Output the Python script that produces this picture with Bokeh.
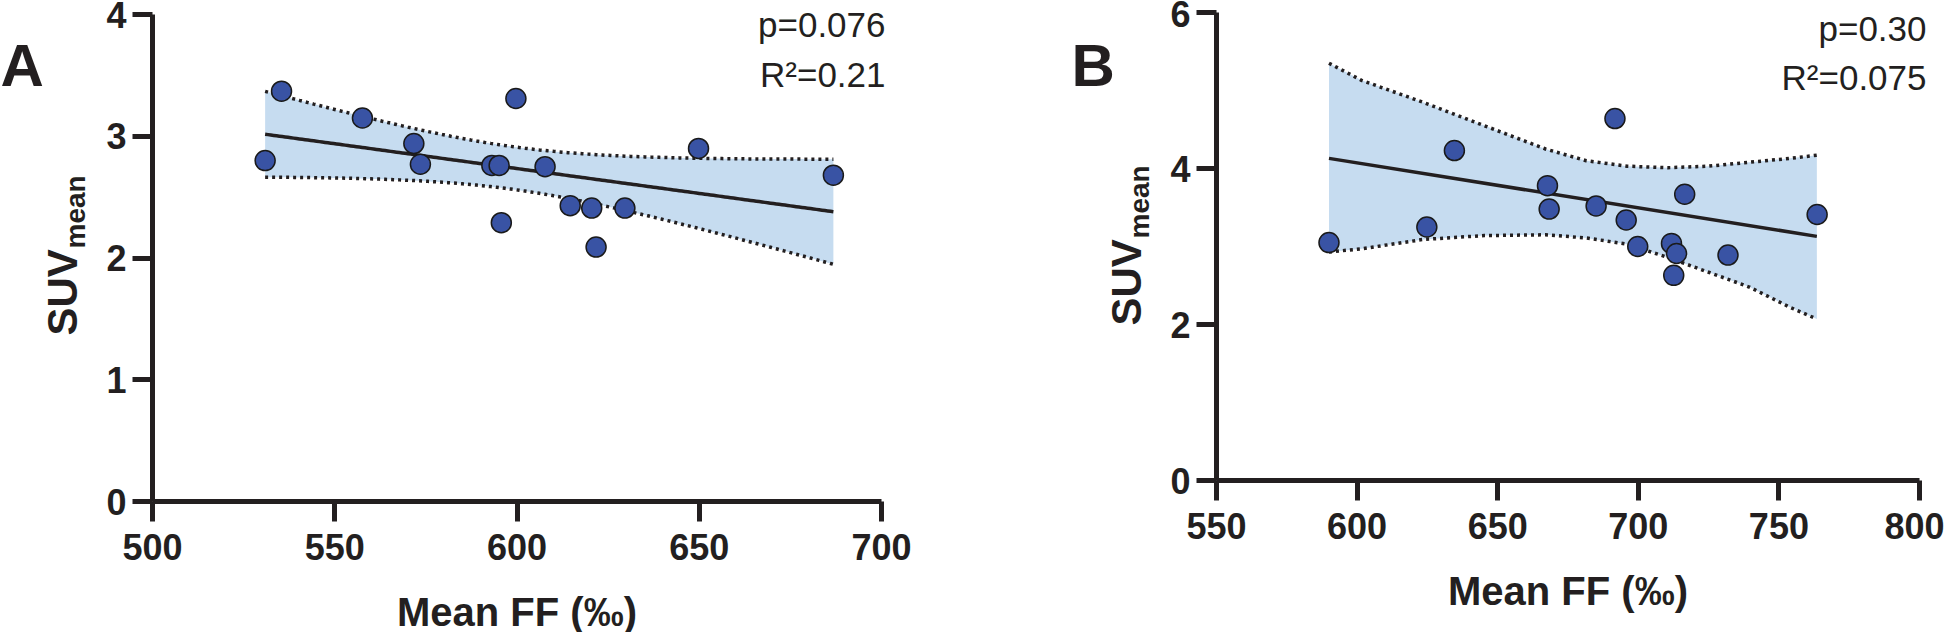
import numpy as np
from bokeh.plotting import figure
from bokeh.models import Range1d, Label, FixedTicker
from bokeh.layouts import row
from bokeh.embed import file_html
from bokeh.resources import INLINE

# ---------------- data ----------------
a_ff = [530.9, 535.4, 557.6, 571.7, 573.5, 593.1, 595.1, 595.7, 599.7,
        607.7, 614.6, 620.5, 621.7, 629.6, 649.8, 686.8]
a_suv = [2.80, 3.37, 3.15, 2.94, 2.77, 2.76, 2.76, 2.29, 3.31,
         2.75, 2.43, 2.41, 2.09, 2.41, 2.90, 2.68]
b_ff = [590.0, 624.8, 634.6, 667.7, 668.3, 685.0, 691.7, 695.7, 699.8,
        711.8, 713.6, 712.6, 716.5, 731.9, 763.6]
b_suv = [3.05, 3.25, 4.23, 3.78, 3.48, 3.52, 4.64, 3.34, 3.00,
         3.04, 2.91, 2.63, 3.67, 2.89, 3.41]
# panel B fit line and 95% band
b_fit_x = [590.0, 763.5]
b_fit_y = [4.13, 3.13]
b_band_x = [590.0, 601.6, 623.4, 645.2, 667.0, 681.5, 696.0, 710.5, 725.0, 739.5, 754.0, 763.5]
b_band_hi = [5.35, 5.13, 4.85, 4.55, 4.25, 4.10, 4.03, 4.01, 4.03, 4.08, 4.13, 4.17]
b_band_lo = [2.93, 2.97, 3.09, 3.14, 3.15, 3.11, 3.03, 2.86, 2.67, 2.48, 2.22, 2.07]

a_xticks = [500, 550, 600, 650, 700]
a_yticks = [0, 1, 2, 3, 4]
b_xticks = [550, 600, 650, 700, 750, 800]
b_yticks = [0, 2, 4, 6]
a_stats = ["p=0.076", "R²=0.21"]
b_stats = ["p=0.30", "R²=0.075"]
x_title = "Mean FF (‰)"
y_title_main = "SUV"
y_title_sub = "mean"

T975 = {13: 2.1604, 14: 2.1448, 15: 2.1314}

INK = "#231f20"
FONT = "Liberation Sans"
H = 632
MID = 0.3465  # distance (in em) from alphabetic baseline to the middle of the em box


def fit_band(x, y):
    x = np.asarray(x, float)
    y = np.asarray(y, float)
    n = len(x)
    b, a = np.polyfit(x, y, 1)
    xs = np.linspace(x.min(), x.max(), 200)
    ys = a + b * xs
    resid = y - (a + b * x)
    s = np.sqrt((resid ** 2).sum() / (n - 2))
    sxx = ((x - x.mean()) ** 2).sum()
    se = s * np.sqrt(1.0 / n + (xs - x.mean()) ** 2 / sxx)
    t = T975[n - 2]
    return xs, ys, ys - t * se, ys + t * se


def panel(letter, xv, yv, band, xr, yr, xt, yt, stats, width, page_left,
          px_x0, px_x1, px_y0, px_y1, letter_px, suv_start, stat_right, stat_base):
    # map page pixel geometry of the axes onto a frame that fills the canvas
    sx = (px_x1 - px_x0) / (xr[1] - xr[0])
    sy = (px_y0 - px_y1) / (yr[1] - yr[0])
    left = px_x0 - page_left
    x_start = xr[0] - left / sx
    x_end = xr[0] + (width - left) / sx
    y_start = yr[0] - (H - px_y0) / sy
    y_end = yr[1] + px_y1 / sy

    p = figure(width=width, height=H, output_backend="svg", toolbar_location=None,
               x_range=Range1d(x_start, x_end), y_range=Range1d(y_start, y_end),
               min_border=0, min_border_left=0, min_border_right=0,
               min_border_top=0, min_border_bottom=0)
    p.outline_line_color = None
    p.grid.visible = False

    bx, fy_x, fy_y, lo, hi = band
    p.varea(x=bx, y1=lo, y2=hi, fill_color="#c6dcf0")
    p.line(bx, lo, line_color=INK, line_width=3.5, line_dash="3 4")
    p.line(bx, hi, line_color=INK, line_width=3.5, line_dash="3 4")
    p.line(fy_x, fy_y, line_color=INK, line_width=3.5)
    p.scatter(xv, yv, size=20, fill_color="#3953a4", line_color="#1a1a1a",
              line_width=1.5)

    p.xaxis.fixed_location = yr[0]
    p.yaxis.fixed_location = xr[0]
    p.xaxis.bounds = xr
    p.yaxis.bounds = yr
    for ax, ticks in ((p.xaxis, xt), (p.yaxis, yt)):
        ax.ticker = FixedTicker(ticks=ticks, minor_ticks=[])
        ax.axis_line_width = 5
        ax.axis_line_color = INK
        ax.major_tick_line_width = 5
        ax.major_tick_line_color = INK
        ax.major_tick_out = 20
        ax.major_tick_in = 0
        ax.minor_tick_out = 0
        ax.minor_tick_in = 0
        ax.major_label_text_font = FONT
        ax.major_label_text_font_style = "bold"
        ax.major_label_text_font_size = "36px"
        ax.major_label_text_color = INK
    p.xaxis.major_label_standoff = 12
    p.yaxis.major_label_standoff = 6

    x0, y0, x1 = xr[0], yr[0], xr[1]
    fb = px_y0

    def add(text, fs, px_x, base_y, align, bold=True, angle=0.0):
        # px_x / base_y: page position of the anchor and of the text baseline
        if angle:
            ax_ = base_y - MID * fs       # rotated: baseline is vertical at x=base_y
            p.add_layout(Label(x=x0, y=y0, x_offset=ax_ - px_x0,
                               y_offset=fb - px_x, angle=angle, text=text,
                               text_font=FONT, text_font_style="bold" if bold else "normal",
                               text_font_size=f"{fs}px", text_color=INK,
                               text_align=align, text_baseline="middle"))
        else:
            p.add_layout(Label(x=x0, y=y0, x_offset=px_x - px_x0,
                               y_offset=fb - (base_y - MID * fs), text=text,
                               text_font=FONT, text_font_style="bold" if bold else "normal",
                               text_font_size=f"{fs}px", text_color=INK,
                               text_align=align, text_baseline="middle"))

    # panel letter
    add(letter, 60, letter_px, 86, "left")
    # x title
    add(x_title, 40, (px_x0 + px_x1) / 2, fb + 124, "center")
    # y title rotated: (start y on page, baseline x on page)
    add(y_title_main, 42, suv_start, 77 + (px_x0 - 152), "left", angle=np.pi / 2)
    add(y_title_sub, 28, suv_start - 87, 85 + (px_x0 - 152), "left", angle=np.pi / 2)
    # stats
    for txt, base in zip(stats, stat_base):
        add(txt, 35, stat_right, base, "right", bold=False)
    return p


band_a = fit_band(a_ff, a_suv)
band_a = (band_a[0], band_a[0], band_a[1], band_a[2], band_a[3])
band_b = (b_band_x, b_fit_x, b_fit_y, b_band_lo, b_band_hi)

pa = panel("A", a_ff, a_suv, band_a, (500, 700), (0, 4), a_xticks, a_yticks, a_stats,
           width=1062, page_left=0, px_x0=152, px_x1=881, px_y0=501, px_y1=14,
           letter_px=0, suv_start=335, stat_right=885, stat_base=(36, 86))
pb = panel("B", b_ff, b_suv, band_b, (550, 800), (0, 6), b_xticks, b_yticks, b_stats,
           width=882, page_left=1062, px_x0=1216, px_x1=1919, px_y0=480, px_y1=12,
           letter_px=1071, suv_start=325, stat_right=1926, stat_base=(40, 89))

layout = row(pa, pb)
open("out.html", "w").write(file_html(layout, INLINE))
